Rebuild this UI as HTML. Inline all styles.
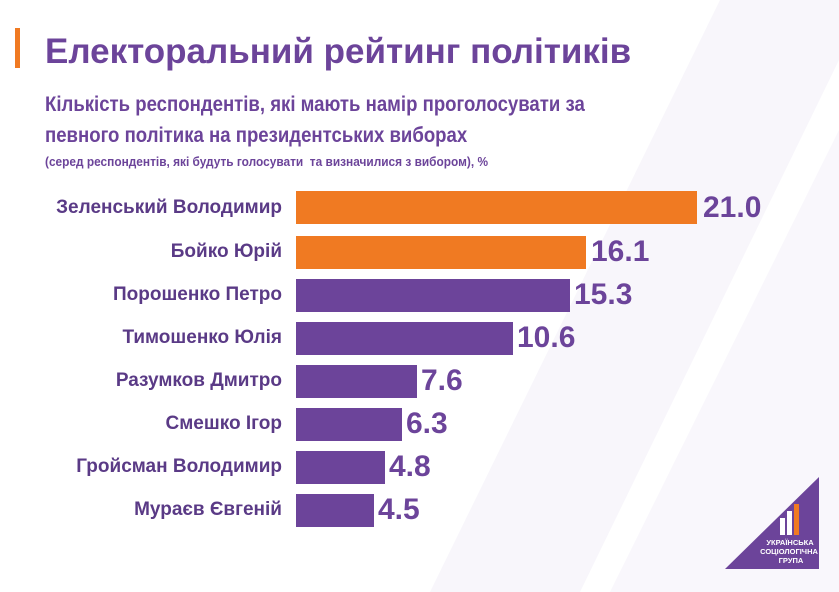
<!DOCTYPE html>
<html><head><meta charset="utf-8"><style>
body{margin:0;width:839px;height:592px;background:#fff;position:relative;overflow:hidden;font-family:"Liberation Sans",sans-serif}
.t{position:absolute;color:#6c449a;font-weight:bold;white-space:nowrap;transform-origin:left top}
.lbl{position:absolute;right:557px;color:#5a3a86;font-weight:bold;font-size:19px;text-align:right;white-space:nowrap}
.bar{position:absolute;left:296px;height:33px}
.v{position:absolute;color:#6c449a;font-weight:bold;font-size:30px}
</style></head><body>
<svg width="839" height="592" style="position:absolute;left:0;top:0">
<polygon points="720,0 839,0 839,60 580,592 430,592" fill="#f8f6fb"/>
<polygon points="610,592 839,130 839,592" fill="#f9f7fc"/>
<polygon points="725,569 819,477 819,569" fill="#6c449a"/>
<rect x="780" y="518" width="5" height="17" fill="#fff"/>
<rect x="787" y="511" width="5" height="24" fill="#fff"/>
<rect x="794" y="504" width="5" height="31" fill="#f07a22"/>
<text x="790" y="545" font-size="7.5" font-weight="bold" fill="#fff" text-anchor="middle" font-family="Liberation Sans">УКРАЇНСЬКА</text>
<text x="789" y="554" font-size="7.5" font-weight="bold" fill="#fff" text-anchor="middle" font-family="Liberation Sans">СОЦІОЛОГІЧНА</text>
<text x="791" y="563" font-size="7.5" font-weight="bold" fill="#fff" text-anchor="middle" font-family="Liberation Sans">ГРУПА</text>
</svg>
<div style="position:absolute;left:15px;top:28px;width:5px;height:40px;background:#f07a22"></div>
<div class="t" style="left:45px;top:32px;font-size:35px">Електоральний рейтинг політиків</div>
<div class="t" style="left:45px;top:93px;font-size:21px;transform:scaleX(0.885)">Кількість респондентів, які мають намір проголосувати за</div>
<div class="t" style="left:45px;top:124px;font-size:21px;transform:scaleX(0.885)">певного політика на президентських виборах</div>
<div class="t" style="left:45px;top:155px;font-size:12.5px;transform:scaleX(0.95)">(серед респондентів, які будуть голосувати&nbsp; та визначилися з вибором), %</div>

<div class="lbl" style="top:197px">Зеленський Володимир</div>
<div class="bar" style="top:191px;width:401px;background:#f07a22"></div><div class="v" style="left:703px;top:191px">21.0</div>
<div class="lbl" style="top:241px">Бойко Юрій</div>
<div class="bar" style="top:236px;width:290px;background:#f07a22"></div><div class="v" style="left:591px;top:235px">16.1</div>
<div class="lbl" style="top:284px">Порошенко Петро</div>
<div class="bar" style="top:279px;width:274px;background:#6c449a"></div><div class="v" style="left:574px;top:278px">15.3</div>
<div class="lbl" style="top:327px">Тимошенко Юлія</div>
<div class="bar" style="top:322px;width:217px;background:#6c449a"></div><div class="v" style="left:517px;top:321px">10.6</div>
<div class="lbl" style="top:370px">Разумков Дмитро</div>
<div class="bar" style="top:365px;width:121px;background:#6c449a"></div><div class="v" style="left:421px;top:364px">7.6</div>
<div class="lbl" style="top:413px">Смешко Ігор</div>
<div class="bar" style="top:408px;width:106px;background:#6c449a"></div><div class="v" style="left:406px;top:407px">6.3</div>
<div class="lbl" style="top:456px">Гройсман Володимир</div>
<div class="bar" style="top:451px;width:89px;background:#6c449a"></div><div class="v" style="left:389px;top:450px">4.8</div>
<div class="lbl" style="top:499px">Мураєв Євгеній</div>
<div class="bar" style="top:494px;width:78px;background:#6c449a"></div><div class="v" style="left:378px;top:493px">4.5</div>
</body></html>
